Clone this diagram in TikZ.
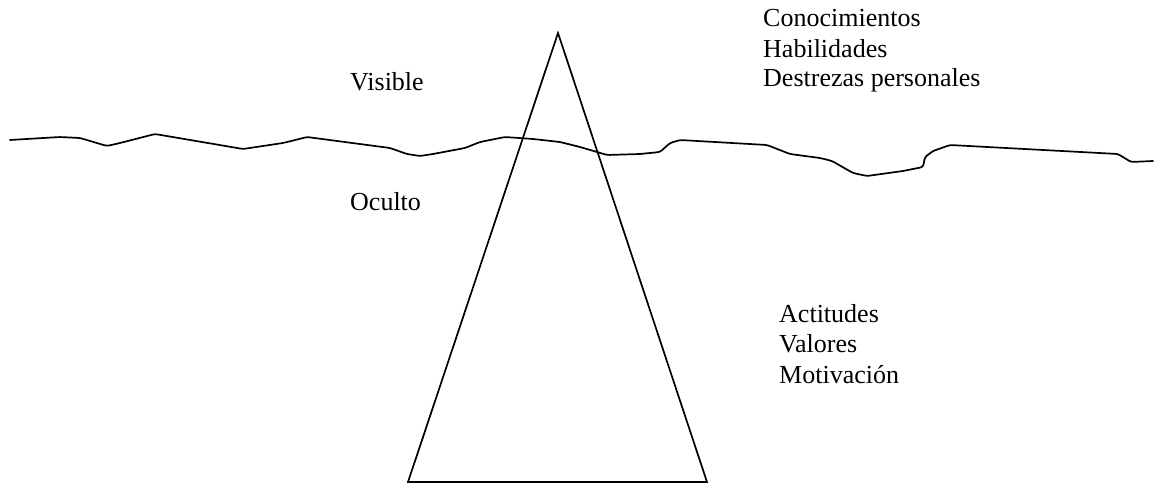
\documentclass[tikz,border=0pt]{standalone}
\usepackage{fontspec}
\setmainfont{Liberation Serif}
\begin{document}
\begin{tikzpicture}[x=1pt,y=-1pt,
  label text/.style={anchor=base west,inner sep=0pt,font=\fontsize{26}{30}\selectfont},
  outline/.style={line width=1.7pt,line join=round,line cap=round}]
\useasboundingbox (0,0) rectangle (1154,487);

% surface line
\draw[outline,rounded corners=2.5pt]
  (10,140) -- (60,137) -- (80,138) -- (107,146) -- (120,143) -- (155,134)
  -- (243,149) -- (283,143) -- (307,137) -- (390,148) -- (407,154)
  -- (420,156) -- (433,154) -- (465,148) -- (480,142) -- (505,137)
  -- (533,139) -- (560,142) -- (580,147) -- (597,152) -- (607,155)
  -- (640,154) -- (660,152) -- (670,143) -- (680,140) -- (767,145)
  -- (790,154) -- (820,158) -- (832,161) -- (853,173) -- (867,176)
  -- (903,171) -- (923,167) -- (925,157) -- (933,151) -- (950,145)
  -- (1118,154) -- (1131,162) -- (1153,161);

% triangle
\coordinate (apex) at (558,33);
\coordinate (baseL) at (408,482);
\coordinate (baseR) at (707,482);
\draw[outline,line join=miter] (apex) -- (baseL) -- (baseR) -- cycle;

% labels
\node[label text] (visible) at (350,91) {Visible};
\node[label text] (oculto) at (350,210) {Oculto};

\node[label text] (conoc) at (763,27) {Conocimientos};
\node[label text] (habil) at (763,58) {Habilidades};
\node[label text] (destr) at (763,87) {Destrezas personales};

\node[label text] (actit) at (779,322) {Actitudes};
\node[label text] (valor) at (779,352) {Valores};
\node[label text] (motiv) at (779,383) {Motivación};
\end{tikzpicture}
\end{document}
